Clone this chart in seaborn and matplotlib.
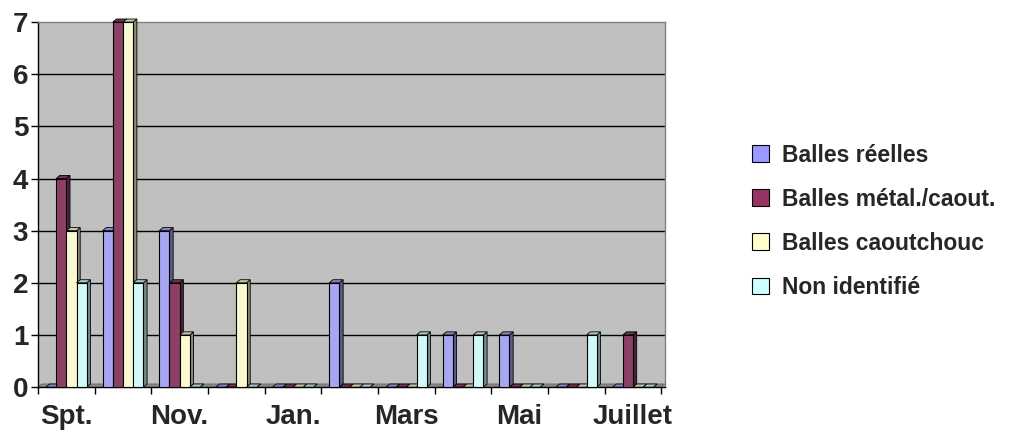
import matplotlib
matplotlib.use("Agg")
import matplotlib.pyplot as plt
from matplotlib.patches import Polygon, Patch
import numpy as np
import pandas as pd
import seaborn as sns

# Monthly counts by ammunition type
months = ["Spt.", "Oct.", "Nov.", "Déc.", "Jan.", "Fév.", "Mars", "Avr.", "Mai", "Juin", "Juillet"]
month_labels = ["Spt.", "", "Nov.", "", "Jan.", "", "Mars", "", "Mai", "", "Juillet"]
series = ["Balles réelles", "Balles métal./caout.", "Balles caoutchouc", "Non identifié"]
balles_reelles = [0, 3, 3, 0, 0, 2, 0, 1, 1, 0, 0]
balles_metal_caout = [4, 7, 2, 0, 0, 0, 0, 0, 0, 0, 1]
balles_caoutchouc = [3, 7, 1, 2, 0, 0, 0, 0, 0, 0, 0]
non_identifie = [2, 2, 0, 0, 0, 0, 1, 1, 0, 1, 0]
colors = ["#9999FF", "#993366", "#FFFFCC", "#CCFFFF"]

values = [balles_reelles, balles_metal_caout, balles_caoutchouc, non_identifie]
df = pd.DataFrame({
    "mois": np.repeat([months], 4, axis=0).ravel(),
    "type": np.repeat(series, len(months)),
    "n": np.concatenate(values),
})

sns.set_theme(style="white")
plt.rcParams["font.family"] = ["Liberation Sans", "DejaVu Sans"]
plt.rcParams["font.weight"] = "bold"

fig = plt.figure(figsize=(10.13, 4.34), dpi=100)
ax = fig.add_axes([0.0375, 0.108, 0.619, 0.841])
ax.set_facecolor("#C0C0C0")

sns.barplot(data=df, x="mois", y="n", hue="type", order=months, hue_order=series,
            palette=colors, width=0.72, gap=0, edgecolor="black", linewidth=0.8,
            legend=False, ax=ax, zorder=3)

# depth of the pseudo-3D faces, in data units
dx, dy = 0.065, 0.06

def shade(c, f):
    r, g, b = matplotlib.colors.to_rgb(c)
    return (r * f, g * f, b * f)

bars = [p for p in ax.patches if p.get_width() > 0]
bars.sort(key=lambda p: p.get_x())
for k, p in enumerate(bars):
    x, w, h = p.get_x(), p.get_width(), p.get_height()
    fc = p.get_facecolor()
    z = 3 + k * 0.01
    p.set_zorder(z + 0.005)
    p.set_clip_on(False)
    side = Polygon([(x + w, 0), (x + w + dx, dy), (x + w + dx, h + dy), (x + w, h)],
                   closed=True, facecolor=shade(fc, 0.55), edgecolor="black", linewidth=0.6,
                   zorder=z, clip_on=False)
    top = Polygon([(x, h), (x + dx, h + dy), (x + w + dx, h + dy), (x + w, h)],
                  closed=True, facecolor=shade(fc, 0.8), edgecolor="black", linewidth=0.6,
                  zorder=z, clip_on=False)
    ax.add_patch(side)
    ax.add_patch(top)

# floor strip
ax.add_patch(Polygon([(-0.5, 0), (-0.5 + dx, dy), (10.5 + dx, dy), (10.5, 0)], closed=True,
                     facecolor="#8C8C8C", edgecolor="#606060", linewidth=0.6, zorder=2))

ax.set_xlim(-0.5, 10.5 + dx)
ax.set_ylim(0, 7)
for yv in range(1, 7):
    ax.axhline(yv, color="black", linewidth=1.0, zorder=1)

ax.set_yticks(range(0, 8))
ax.set_yticklabels([str(v) for v in range(0, 8)], fontsize=20, fontweight="bold")
ax.set_xticks(np.arange(-0.5, 11, 1.0))
ax.set_xticklabels([])
ax.set_xticks(np.arange(0, 11), minor=True)
ax.set_xticklabels(month_labels, minor=True, fontsize=20, fontweight="bold")
ax.tick_params(axis="x", which="major", direction="out", length=5, width=1, color="black", bottom=True)
ax.tick_params(axis="x", which="minor", length=0, pad=12)
ax.tick_params(axis="y", direction="out", length=5, width=1, color="black", left=True, pad=2)
ax.set_xlabel("")
ax.set_ylabel("")

for s in ["top", "right"]:
    ax.spines[s].set_color("#808080")
    ax.spines[s].set_linewidth(1)
for s in ["left", "bottom"]:
    ax.spines[s].set_color("black")
    ax.spines[s].set_linewidth(1)

handles = [Patch(facecolor=c, edgecolor="black", linewidth=0.8) for c in colors]
fig.legend(handles, series, loc="center left", bbox_to_anchor=(0.722, 0.49),
           frameon=False, prop={"size": 16.5, "weight": "bold"},
           handlelength=0.75, handleheight=0.75, handletextpad=0.55, labelspacing=0.92)

fig.savefig("out.png", dpi=100)
